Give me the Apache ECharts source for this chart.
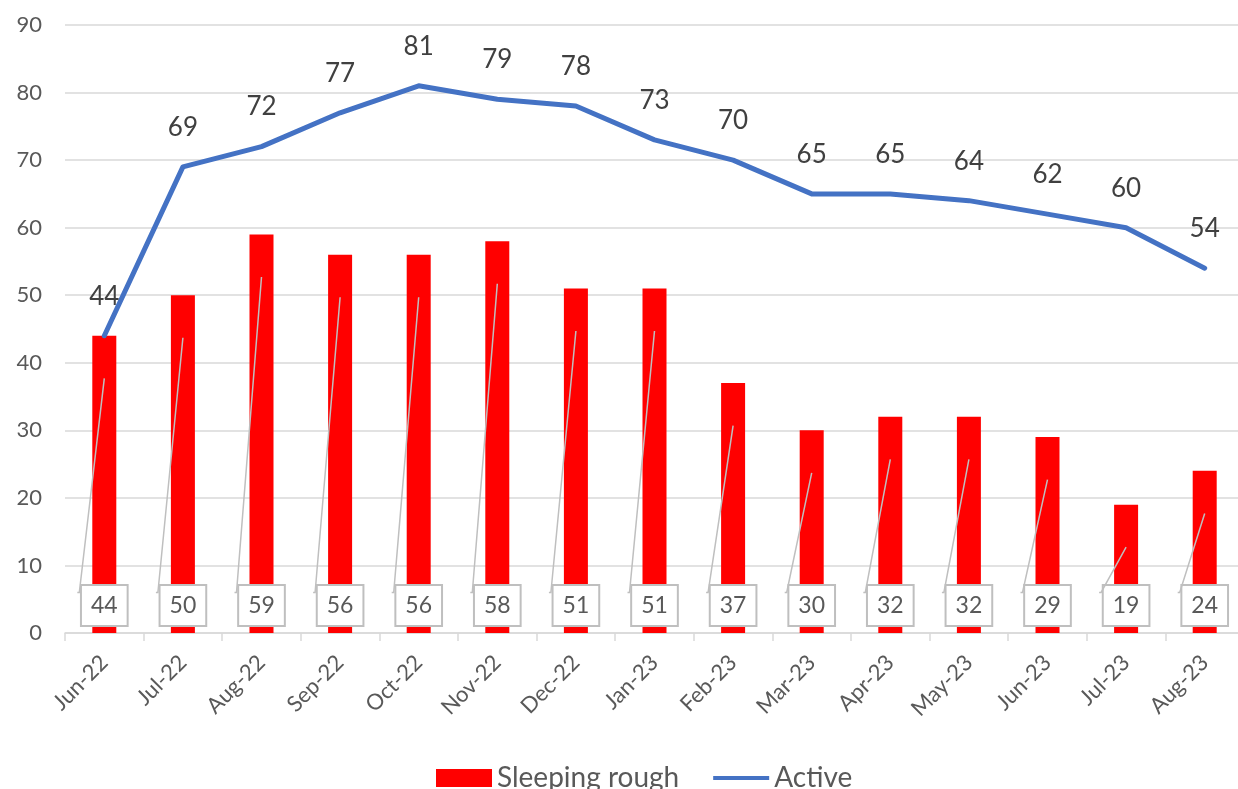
<!DOCTYPE html>
<html><head><meta charset="utf-8">
<script src="https://cdn.jsdelivr.net/npm/echarts@6/dist/echarts.min.js"></script>
<style>html,body{margin:0;padding:0;background:#fff}#c{width:1238px;height:789px}</style>
</head><body><div id="c"></div>
<script>
var categories = ['Jun-22','Jul-22','Aug-22','Sep-22','Oct-22','Nov-22','Dec-22','Jan-23','Feb-23','Mar-23','Apr-23','May-23','Jun-23','Jul-23','Aug-23'];
var sleepingRough = [44,50,59,56,56,58,51,51,37,30,32,32,29,19,24];
var active = [44,69,72,77,81,79,78,73,70,65,65,64,62,60,54];
var yTicks = [0,10,20,30,40,50,60,70,80,90];

var FONT = 'Lato, "Open Sans", sans-serif';
var chart = echarts.init(document.getElementById('c'), null, {renderer:'canvas'});
chart.setOption({
  animation:false,
  textStyle:{fontFamily:FONT},
  grid:{left:65, width:1179, top:25, bottom:156, containLabel:false, outerBoundsMode:'none'},
  legend:{
    left:431, top:759, itemWidth:56, itemHeight:18, itemGap:34,
    textStyle:{fontSize:28, color:'#595959', fontFamily:FONT},
    data:[{name:'Sleeping rough', icon:'rect'},
          {name:'Active', icon:'path://M0,0 L60,0 L60,4.2 L0,4.2 Z'}]
  },
  xAxis:{
    type:'category', data:categories,
    axisLine:{lineStyle:{color:'#D9D9D9', width:1.5}},
    axisTick:{show:true, length:8, lineStyle:{color:'#D9D9D9', width:1.5}},
    axisLabel:{rotate:45, fontSize:22, color:'#595959', margin:26, fontFamily:FONT, interval:0}
  },
  yAxis:{
    type:'value', min:0, max:90, interval:10,
    axisLine:{show:false}, axisTick:{show:false},
    axisLabel:{fontSize:22, color:'#595959', margin:23, fontFamily:FONT},
    splitLine:{lineStyle:{color:'#D9D9D9', width:1.5}}
  },
  series:[
    {
      name:'Sleeping rough', type:'bar', data:sleepingRough, barWidth:24,
      itemStyle:{color:'#FF0000'}, z:2,
      label:{show:true, position:'insideBottom', distance:8, fontSize:23, color:'#595959',
        backgroundColor:'#fff', borderColor:'#BFBFBF', borderWidth:2,
        padding:[8,9,7,9], lineHeight:24, fontFamily:FONT}
    },
    {
      name:'leaders', type:'custom', z:3, silent:true,
      data:sleepingRough.map(function(v,i){return [i,v];}),
      renderItem:function(params, api){
        var i = api.value(0), v = api.value(1);
        var top = api.coord([i, v-6.3]);
        var bot = api.coord([i, 6]);
        return {type:'polyline', shape:{points:[[top[0]-27, bot[1]],[top[0]-25, bot[1]],[top[0], top[1]]]},
          style:{stroke:'#BFBFBF', lineWidth:1.5, fill:null}};
      }
    },
    {
      name:'Active', type:'line', data:active, symbol:'circle', symbolSize:1, showSymbol:true, z:4,
      lineStyle:{color:'#4472C4', width:5, cap:'round', join:'round'},
      itemStyle:{color:'#4472C4'},
      label:{show:true, position:'top', distance:26, fontSize:26, color:'#404040', fontFamily:FONT}
    }
  ]
});
</script></body></html>
